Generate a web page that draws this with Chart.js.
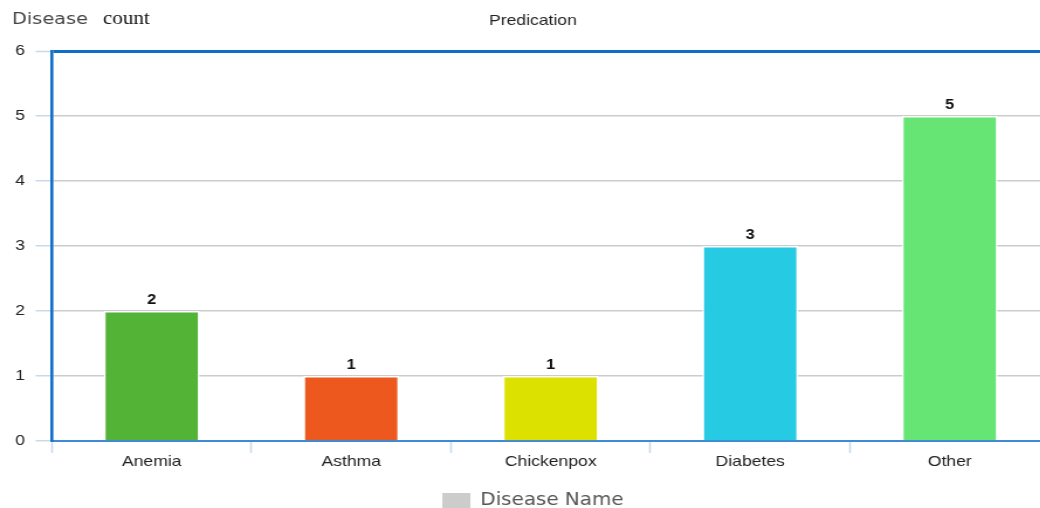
<!DOCTYPE html>
<html>
<head>
<meta charset="utf-8">
<script src="https://cdn.jsdelivr.net/npm/chart.js@4.4.1/dist/chart.umd.min.js"></script>
<style>
  html, body { margin: 0; padding: 0; background: #ffffff; overflow: hidden; width: 1040px; height: 508px; }
  #wrap { position: absolute; left: 0; top: 0; transform: scaleX(1.17); transform-origin: 0 0; }
  canvas { display: block; }
</style>
</head>
<body>
<div id="wrap"><canvas id="c" width="920" height="508"></canvas></div>
<script>
const categories = ["Anemia", "Asthma", "Chickenpox", "Diabetes", "Other"];
const counts = [2, 1, 1, 3, 5];
const barColors = ["#52b336", "#ec581d", "#dde100", "#26cae3", "#66e574"];
const yTicks = [0, 1, 2, 3, 4, 5, 6];
const titleText = "Predication";
const legendText = "Disease Name";
const yTitleWords = ["Disease", "count"];

const valueLabels = {
  id: "valueLabels",
  afterDatasetsDraw(chart) {
    const ctx = chart.ctx;
    const meta = chart.getDatasetMeta(0);
    ctx.save();
    ctx.font = "bold 14px 'Liberation Sans', Arial, sans-serif";
    ctx.fillStyle = "#111111";
    ctx.textAlign = "center";
    ctx.textBaseline = "alphabetic";
    meta.data.forEach((el, i) => {
      ctx.fillText(String(chart.data.datasets[0].data[i]), el.x, el.y - 7);
    });
    ctx.restore();
  }
};

const yTitle = {
  id: "yTitle",
  afterDraw(chart) {
    const ctx = chart.ctx;
    ctx.save();
    ctx.textBaseline = "alphabetic";
    ctx.textAlign = "left";
    ctx.font = "16.5px 'DejaVu Sans', sans-serif";
    ctx.fillStyle = "#444444";
    ctx.fillText(yTitleWords[0], 10.3, 24);
    ctx.font = "18px 'Liberation Serif', 'DejaVu Serif', serif";
    ctx.fillStyle = "#111111";
    ctx.fillText(yTitleWords[1], 88, 24);
    ctx.restore();
  }
};

const centerShift = {
  id: "centerShift",
  afterLayout(chart) {
    if (chart.titleBlock) chart.titleBlock.left += 14;
    if (chart.legend) chart.legend.left += 14;
  }
};

new Chart(document.getElementById("c"), {
  type: "bar",
  data: {
    labels: categories,
    datasets: [{
      label: legendText,
      data: counts,
      backgroundColor: barColors,
      borderColor: "#ffffff",
      borderWidth: 1.5,
      categoryPercentage: 0.8,
      barPercentage: 0.6
    }]
  },
  options: {
    responsive: false,
    animation: false,
    devicePixelRatio: 1,
    layout: { padding: { left: 0, right: 23, top: 0, bottom: -11 } },
    plugins: {
      title: {
        display: true,
        text: titleText,
        color: "#222222",
        font: { family: "'Liberation Sans', Arial, sans-serif", size: 15, weight: "normal" },
        padding: { top: 12, bottom: 21 }
      },
      legend: {
        display: true,
        position: "bottom",
        labels: {
          color: "#555555",
          font: { family: "'DejaVu Sans', sans-serif", size: 17 },
          boxWidth: 24,
          boxHeight: 15,
          padding: 4,
          generateLabels() {
            return [{ text: legendText, fillStyle: "#cccccc", strokeStyle: "#cccccc", lineWidth: 0, hidden: false, datasetIndex: 0, fontColor: "#555555" }];
          }
        },
        onClick() {}
      },
      tooltip: { enabled: false }
    },
    scales: {
      x: {
        grid: {
          display: true,
          drawOnChartArea: false,
          drawTicks: true,
          tickLength: 12,
          tickColor: "#c9d9ea",
          tickWidth: 1.5,
          offset: true
        },
        border: { display: true, color: "#3d8ad6", width: 2 },
        ticks: {
          color: "#222222",
          padding: 0,
          font: { family: "'Liberation Sans', Arial, sans-serif", size: 15 }
        },
        afterFit(scale) { scale.height = 47; }
      },
      y: {
        min: 0,
        max: 6,
        afterBuildTicks(scale) { scale.ticks = yTicks.map(v => ({ value: v })); },
        grid: {
          color: (c) => (c.tick && c.tick.value === 6) ? "#0e6ec8" : "#cccccc",
          lineWidth: (c) => (c.tick && c.tick.value === 6) ? 3 : 1.5,
          tickColor: "#c9d9ea",
          tickLength: 14,
          tickWidth: 1.5
        },
        border: { display: true, color: "#0e6ec8", width: 2.6 },
        ticks: {
          color: "#222222",
          padding: 9,
          font: { family: "'Liberation Sans', Arial, sans-serif", size: 15 }
        },
        afterFit(scale) { scale.width = 44.4; }
      }
    }
  },
  plugins: [valueLabels, yTitle, centerShift]
});
</script>
</body>
</html>
